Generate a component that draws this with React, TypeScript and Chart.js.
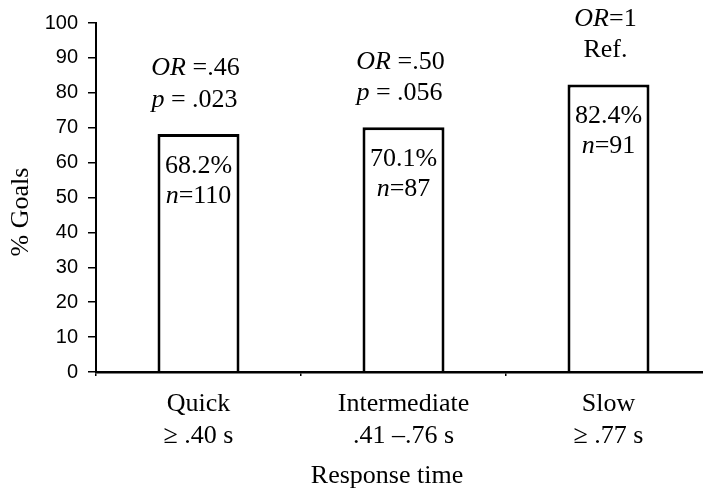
import React, { useEffect, useRef } from "react";
import { Chart, registerables } from "chart.js";

Chart.register(...registerables);

// ---- data ----
const categories: string[][] = [
  ["Quick", "≥ .40 s"],
  ["Intermediate", ".41 –.76 s"],
  ["Slow", "≥ .77 s"],
];
const goalPercent: number[] = [68.2, 70.1, 82.4];
const sampleSize: number[] = [110, 87, 91];
const oddsRatio: string[] = [" =.46", " =.50", "=1"];
const pValue: string[] = [" = .023", " = .056", ""];
const referenceLabel = "Ref.";
const yTicks = { min: 0, max: 100, step: 10 };
const yTitle = "% Goals";
const xTitle = "Response time";

const SERIF = '"Liberation Serif", "Times New Roman", serif';
const SANS = '"Liberation Sans", Arial, sans-serif';
const FONT_SIZE = 26;

type Seg = [string, boolean];

function drawSegments(ctx: CanvasRenderingContext2D, segs: Seg[], cx: number, baseline: number) {
  const fontFor = (it: boolean) => `${it ? "italic " : ""}${FONT_SIZE}px ${SERIF}`;
  let total = 0;
  const widths = segs.map(([t, it]) => {
    ctx.font = fontFor(it);
    const w = ctx.measureText(t).width;
    total += w;
    return w;
  });
  let x = cx - total / 2;
  ctx.textAlign = "left";
  ctx.textBaseline = "alphabetic";
  ctx.fillStyle = "#000";
  segs.forEach(([t, it], i) => {
    ctx.font = fontFor(it);
    ctx.fillText(t, x, baseline);
    x += widths[i];
  });
}

const annotationPlugin = {
  id: "barAnnotations",
  afterDatasetsDraw(chart: any) {
    const ctx: CanvasRenderingContext2D = chart.ctx;
    const meta = chart.getDatasetMeta(0);
    ctx.save();
    meta.data.forEach((bar: any, i: number) => {
      const x = bar.x;
      const top = bar.y;
      // inside bar
      drawSegments(ctx, [[goalPercent[i].toFixed(1) + "%", false]], x, top + 39);
      drawSegments(ctx, [["n", true], ["=" + sampleSize[i], false]], x, top + 69);
      // above bar
      drawSegments(ctx, [["OR", true], [oddsRatio[i], false]], x - 3, top - 58.5);
      if (pValue[i]) {
        drawSegments(ctx, [["p", true], [pValue[i], false]], x - 4, top - 27);
      } else {
        drawSegments(ctx, [[referenceLabel, false]], x - 3, top - 27);
      }
    });
    // axis titles
    const area = chart.chartArea;
    ctx.font = `${FONT_SIZE}px ${SERIF}`;
    ctx.fillStyle = "#000";
    ctx.textAlign = "center";
    ctx.textBaseline = "alphabetic";
    ctx.save();
    ctx.translate(area.left - 68, (area.top + area.bottom) / 2 + 14.5);
    ctx.rotate(-Math.PI / 2);
    ctx.fillText(yTitle, 0, 0);
    ctx.restore();
    ctx.fillText(xTitle, area.left + 291, area.bottom + 111);
    ctx.restore();
  },
};

export default function App() {
  const ref = useRef<HTMLCanvasElement | null>(null);

  useEffect(() => {
    document.documentElement.style.overflow = "hidden";
    document.body.style.overflow = "hidden";
    if (!ref.current) return;
    const chart = new Chart(ref.current, {
      type: "bar",
      data: {
        labels: categories,
        datasets: [
          {
            data: goalPercent,
            backgroundColor: "#ffffff",
            borderColor: "#000000",
            borderWidth: 3,
            borderSkipped: "start",
            categoryPercentage: 1,
            barPercentage: 0.4,
          },
        ],
      },
      options: {
        responsive: false,
        animation: false,
        devicePixelRatio: 1,
        layout: { padding: { top: 23, left: 0, right: 1, bottom: 0 } },
        plugins: {
          legend: { display: false },
          tooltip: { enabled: false },
          title: { display: false },
        },
        scales: {
          x: {
            offset: true,
            grid: {
              display: true,
              offset: true,
              drawOnChartArea: false,
              drawTicks: true,
              tickLength: 4,
              color: "#000",
              lineWidth: 1.5,
            },
            border: { display: true, color: "#000", width: 2.5, z: 1 },
            ticks: {
              color: "#000",
              padding: 12,
              maxRotation: 0,
              autoSkip: false,
              font: { family: SERIF, size: FONT_SIZE, lineHeight: 1.23 },
            },
            afterFit: (s: any) => {
              s.height = 119;
            },
          },
          y: {
            min: yTicks.min,
            max: yTicks.max,
            grid: {
              display: true,
              drawOnChartArea: false,
              drawTicks: true,
              tickLength: 8,
              color: "#000",
              lineWidth: 1.5,
            },
            border: { display: true, color: "#000", width: 2 },
            ticks: {
              stepSize: yTicks.step,
              color: "#000",
              padding: 10,
              font: { family: SANS, size: 20 },
            },
            afterFit: (s: any) => {
              s.width = 96;
            },
          },
        },
      },
      plugins: [annotationPlugin],
    });
    return () => chart.destroy();
  }, []);

  return (
    <div style={{ position: "absolute", left: 0, top: 0, width: 712, height: 491, background: "#fff" }}>
      <canvas ref={ref} width={712} height={491} style={{ width: 712, height: 491, display: "block" }} />
    </div>
  );
}
